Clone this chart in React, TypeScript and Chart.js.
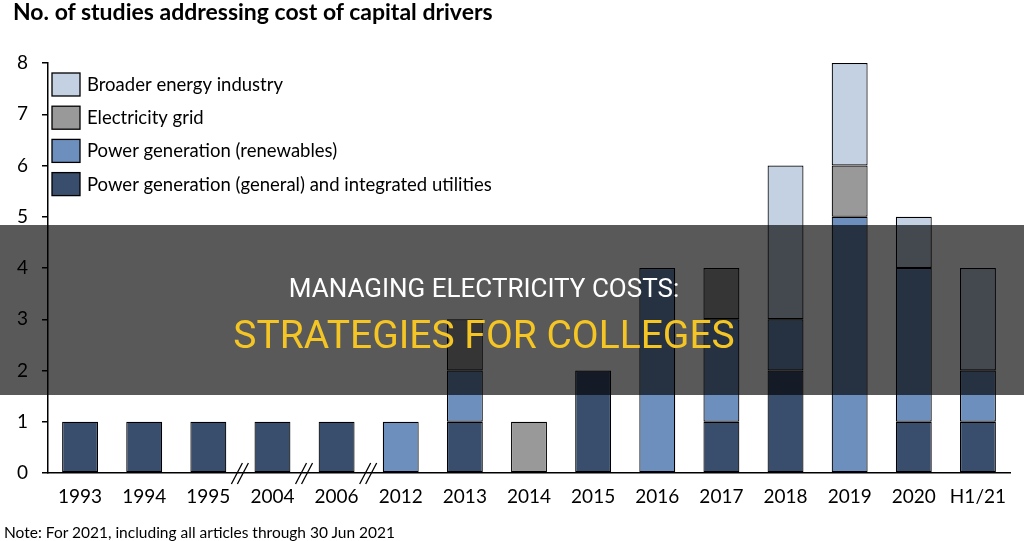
import React, { useEffect, useRef } from 'react';
import { Chart, registerables } from 'chart.js';

Chart.register(...registerables);

// ---------- data ----------
const categories = ['1993', '1994', '1995', '2004', '2006', '2012', '2013', '2014', '2015', '2016', '2017', '2018', '2019', '2020', 'H1/21'];
const general = [1, 1, 1, 1, 1, null, 1, null, 2, null, 1, 2, null, 1, 1];
const renewables = [null, null, null, null, null, 1, 1, null, null, 4, 2, 1, 5, 3, 1];
const grid = [null, null, null, null, null, null, 1, 1, null, null, 1, null, 1, null, null];
const broader = [null, null, null, null, null, null, null, null, null, null, null, 3, 2, 1, 2];
const seriesNames = [
  'Power generation (general) and integrated utilities',
  'Power generation (renewables)',
  'Electricity grid',
  'Broader energy industry',
];
const seriesColors = ['#394e6d', '#6d8fbe', '#999999', '#c3d1e3'];
const breaksAfter = ['1995', '2004', '2006'];
const yMin = 0;
const yMax = 8;
const yStep = 1;

const titleText = 'No. of studies addressing cost of capital drivers';
const noteText = 'Note: For 2021, including all articles through 30 Jun 2021';
const headline1 = 'MANAGING ELECTRICITY COSTS:';
const headline2 = 'STRATEGIES FOR COLLEGES';

const FONT = 'Lato, "Noto Sans", sans-serif';

const breakPlugin = {
  id: 'breakMarks',
  afterDatasetsDraw(chart: any) {
    const { ctx, chartArea, scales } = chart;
    const x = scales.x;
    const b = chartArea.bottom;
    ctx.save();
    ctx.strokeStyle = '#000';
    ctx.lineWidth = 1.3;
    breaksAfter.forEach((lab) => {
      const i = categories.indexOf(lab);
      const mid = (x.getPixelForValue(i) + x.getPixelForValue(i + 1)) / 2;
      [[-9, 2], [-3, 8]].forEach(([a, c]) => {
        ctx.beginPath();
        ctx.moveTo(mid + a, b + 11);
        ctx.lineTo(mid + c, b - 10);
        ctx.stroke();
      });
    });
    ctx.restore();
  },
};

const legendPlugin = {
  id: 'insideLegend',
  afterDraw(chart: any) {
    const { ctx } = chart;
    const ds = chart.data.datasets.slice().reverse();
    ctx.save();
    ds.forEach((d: any, k: number) => {
      const top = 73 + k * 33.2;
      ctx.fillStyle = d.backgroundColor;
      ctx.fillRect(52, top, 28, 23);
      ctx.strokeStyle = '#000';
      ctx.lineWidth = 1.3;
      ctx.strokeRect(52, top, 28, 23);
      ctx.fillStyle = '#000';
      ctx.font = `18.5px ${FONT}`;
      ctx.textBaseline = 'middle';
      ctx.textAlign = 'left';
      ctx.fillText(d.label, 87, top + 12);
    });
    ctx.restore();
  },
};

export default function App() {
  const ref = useRef<HTMLCanvasElement | null>(null);

  useEffect(() => {
    if (!ref.current) return;
    const values = [general, renewables, grid, broader];
    const chart = new Chart(ref.current, {
      type: 'bar',
      data: {
        labels: categories,
        datasets: values.map((v, i) => ({
          label: seriesNames[i],
          data: v,
          backgroundColor: seriesColors[i],
          borderColor: '#000',
          borderWidth: 1.2,
          borderSkipped: false,
          barPercentage: 0.56,
          categoryPercentage: 1,
        })),
      },
      options: {
        responsive: false,
        animation: false,
        devicePixelRatio: 1,
        layout: { padding: { left: 0, right: 14, top: 63, bottom: 0 } },
        plugins: {
          legend: { display: false },
          title: { display: false },
          tooltip: { enabled: false },
        },
        scales: {
          x: {
            stacked: true,
            grid: { display: false, drawTicks: false },
            border: { display: true, color: '#000', width: 1.5 },
            ticks: { color: '#000', font: { family: FONT, size: 19 }, padding: 12, maxRotation: 0, autoSkip: false },
            afterFit: (s: any) => { s.height = 68; },
          },
          y: {
            stacked: true,
            min: yMin,
            max: yMax,
            ticks: { stepSize: yStep, color: '#000', font: { family: FONT, size: 19 }, padding: 14 },
            grid: { drawOnChartArea: false, drawTicks: true, tickLength: 6, color: '#000', lineWidth: 1.5 },
            border: { display: true, color: '#000', width: 1.5 },
            afterFit: (s: any) => { s.width = 48; },
          },
        },
      },
      plugins: [breakPlugin, legendPlugin],
    });
    return () => chart.destroy();
  }, []);

  return (
    <div style={{ position: 'absolute', left: 0, top: 0, width: 1024, height: 541, overflow: 'hidden', background: '#fff' }}>
      <canvas ref={ref} width={1024} height={541} style={{ position: 'absolute', left: 0, top: 0, width: 1024, height: 541 }} />
      <div style={{ position: 'absolute', left: 13, top: -1, fontFamily: FONT, fontWeight: 700, fontSize: 23, lineHeight: '24px', color: '#000', whiteSpace: 'nowrap' }}>
        {titleText}
      </div>
      <div style={{ position: 'absolute', left: 4, top: 522, fontFamily: FONT, fontSize: 15.5, lineHeight: '20px', color: '#000', whiteSpace: 'nowrap' }}>
        {noteText}
      </div>
      <div style={{ position: 'absolute', left: 0, top: 225, width: 1024, height: 170, background: 'rgba(0,0,0,0.65)' }} />
      <div style={{ position: 'absolute', left: 0, top: 275, width: 968, textAlign: 'center', fontFamily: 'Roboto, sans-serif', fontSize: 26, lineHeight: '26px', color: '#ffffff', whiteSpace: 'nowrap' }}>
        {headline1}
      </div>
      <div style={{ position: 'absolute', left: 0, top: 316, width: 968, textAlign: 'center', fontFamily: 'Roboto, sans-serif', fontSize: 39, lineHeight: '39px', color: '#f5c523', whiteSpace: 'nowrap' }}>
        {headline2}
      </div>
    </div>
  );
}
